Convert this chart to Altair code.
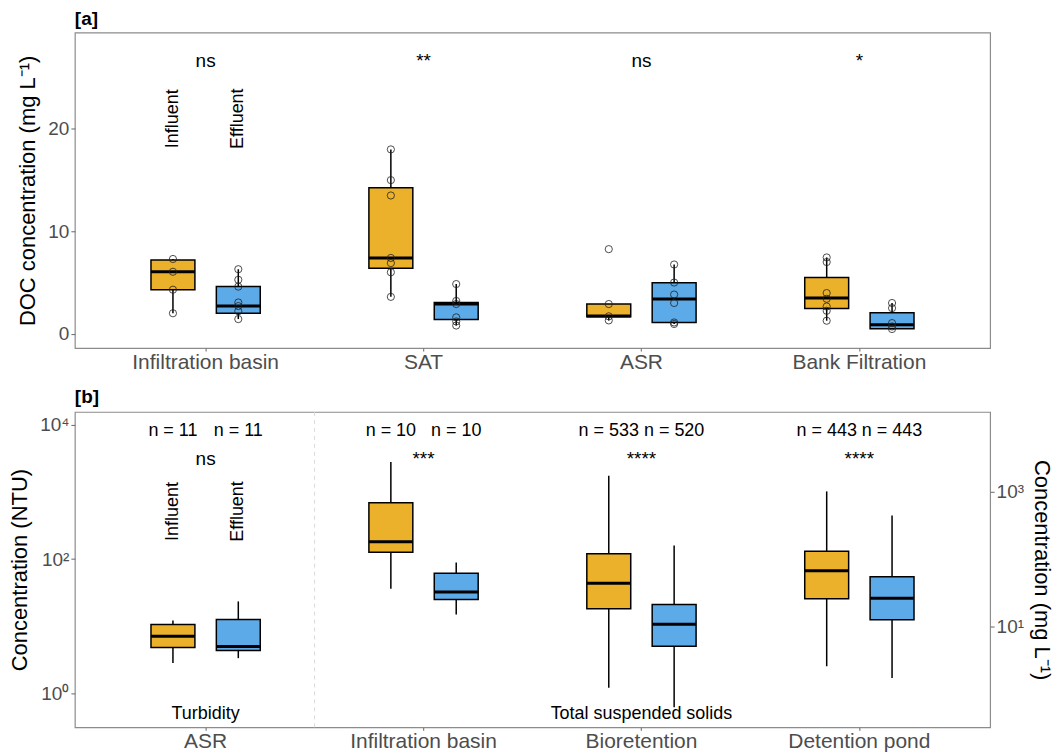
import altair as alt
import pandas as pd

FONT = "Liberation Sans"
GROUPS = ["Influent", "Effluent"]
COLORS = ["#EBB12B", "#5CAAE8"]

# ---------------- Panel a: DOC ----------------
CATS_A = ["Infiltration basin", "SAT", "ASR", "Bank Filtration"]
# order: cat1-Influent, cat1-Effluent, cat2-Influent, ...
A_LO = [2.0, 1.43, 3.6, 0.8, 1.3, 0.95, 1.27, 0.46]
A_Q1 = [4.3, 2.0, 6.4, 1.4, 1.66, 1.1, 2.47, 0.49]
A_MED = [6.05, 2.7, 7.4, 2.9, 1.73, 3.38, 3.48, 0.88]
A_Q3 = [7.2, 4.6, 14.25, 3.05, 2.9, 4.98, 5.5, 2.05]
A_HI = [7.3, 6.3, 18.0, 4.85, 2.9, 6.76, 7.45, 3.0]
A_POINTS = [
    [7.3, 6.05, 4.3, 2.0],
    [6.3, 5.27, 4.6, 3.05, 2.7, 2.2, 1.43],
    [18.0, 15.0, 13.5, 7.4, 6.9, 6.0, 3.6],
    [4.85, 3.2, 2.9, 1.6, 1.2, 0.8],
    [8.26, 2.9, 1.7, 1.3],
    [6.76, 5.0, 3.83, 3.0, 1.1, 0.95],
    [7.45, 7.0, 3.97, 3.41, 2.66, 2.24, 1.27],
    [3.0, 2.5, 1.04, 0.71, 0.46],
]
A_SIG = ["ns", "**", "ns", "*"]
A_SIG_Y = 26.6
A_GROUP_LABEL_Y = 21.0
A_DOMAIN = [-1.4, 29.4]
A_TICKS = [0, 10, 20]

# ---------------- Panel b: Turbidity / TSS ----------------
CATS_B = ["ASR", "Infiltration basin", "Bioretention", "Detention pond"]
B_LO = [2.84, 3.34, 36.2, 15.0, 1.21, 0.62, 2.53, 1.69]
B_Q1 = [4.8, 4.33, 126, 25.1, 18.2, 5.04, 25.7, 12.5]
B_MED = [7.1, 4.97, 181, 32.3, 43.5, 10.7, 67.3, 26.0]
B_Q3 = [10.6, 12.6, 692, 61.4, 120, 21.1, 131, 54.7]
B_HI = [12.2, 23.4, 2800, 88.7, 1753, 159, 1021, 447]
B_N = [11, 11, 10, 10, 533, 520, 443, 443]
B_SIG = ["ns", "***", "****", "****"]
B_SIG_Y = 3090
B_N_Y = 8020
B_GROUP_LABEL_Y = 513
B_VAR_LABELS = ["Turbidity", "Total suspended solids"]
B_VAR_CATS = ["ASR", "Bioretention"]
B_VAR_Y = 0.49
B_DOMAIN = [0.311, 15600]
B_TICKS_LEFT = [1, 100, 10000]
B_TICKS_RIGHT = [10, 1000]


def stats_df(cats, lo, q1, med, q3, hi, n=None):
    rows = []
    i = 0
    for c in cats:
        for g in GROUPS:
            rows.append(dict(cat=c, grp=g, lo=lo[i], q1=q1[i], med=med[i],
                             q3=q3[i], hi=hi[i],
                             nlab=(f"n = {n[i]}" if n else "")))
            i += 1
    return pd.DataFrame(rows)


df_a = stats_df(CATS_A, A_LO, A_Q1, A_MED, A_Q3, A_HI)
pts_rows = []
i = 0
for c in CATS_A:
    for g in GROUPS:
        for v in A_POINTS[i]:
            pts_rows.append(dict(cat=c, grp=g, v=v))
        i += 1
df_pts = pd.DataFrame(pts_rows)
df_sig_a = pd.DataFrame(dict(cat=CATS_A, lab=A_SIG, y=[A_SIG_Y] * 4))
df_glab_a = pd.DataFrame(dict(cat=[CATS_A[0]] * 2, grp=GROUPS, lab=GROUPS,
                              y=[A_GROUP_LABEL_Y] * 2))

df_b = stats_df(CATS_B, B_LO, B_Q1, B_MED, B_Q3, B_HI, B_N)
df_b["ny"] = B_N_Y
df_sig_b = pd.DataFrame(dict(cat=CATS_B, lab=B_SIG, y=[B_SIG_Y] * 4))
df_glab_b = pd.DataFrame(dict(cat=[CATS_B[0]] * 2, grp=GROUPS, lab=GROUPS,
                              y=[B_GROUP_LABEL_Y] * 2))
df_var_b = pd.DataFrame(dict(cat=B_VAR_CATS, lab=B_VAR_LABELS, y=[B_VAR_Y] * 2))
df_sep = pd.DataFrame(dict(cat=[CATS_B[1]]))

BOX_W = 44
PW = 917
PH = 316


def xaxis():
    return alt.Axis(title=None, labelAngle=0, labelFontSize=21,
                    labelColor="#4d4d4d", labelFont=FONT,
                    tickColor="#666", tickSize=3, labelPadding=0,
                    domain=False)


def xenc(cats):
    return alt.X("cat:N", sort=cats,
                 scale=alt.Scale(domain=cats, paddingInner=0, paddingOuter=0.1),
                 axis=xaxis())


XO = alt.XOffset("grp:N", sort=GROUPS,
                 scale=alt.Scale(domain=GROUPS, paddingInner=0, paddingOuter=0.667))
COL = alt.Color("grp:N", scale=alt.Scale(domain=GROUPS, range=COLORS), legend=None)


def yaxis(title, values, orient="left", label_expr=None, title_pad=8):
    kw = dict(title=title, values=values, orient=orient, grid=False, domain=False,
              labelFontSize=19, labelColor="#4d4d4d", labelFont=FONT,
              titleFontSize=22, titleFont=FONT, titleFontWeight="normal",
              titleColor="black", tickColor="#666", tickSize=4, labelPadding=2,
              titlePadding=title_pad)
    if label_expr:
        kw["labelExpr"] = label_expr
    return alt.Axis(**kw)


def panel_title(t):
    return alt.Title(t, anchor="start", frame="group", fontSize=19,
                     fontWeight="bold", font=FONT, color="black", offset=4)


# ---------- panel a ----------
ysa = alt.Scale(domain=A_DOMAIN, nice=False, zero=False)
ax_a = yaxis("DOC concentration (mg L⁻¹)", A_TICKS)

base_a = alt.Chart(df_a)
wh_a = base_a.mark_rule(color="black", strokeWidth=1.5).encode(
    x=xenc(CATS_A), xOffset=XO,
    y=alt.Y("lo:Q", scale=ysa, axis=ax_a), y2="hi:Q")
box_a = base_a.mark_bar(size=BOX_W, stroke="black", strokeWidth=1.5).encode(
    x=xenc(CATS_A), xOffset=XO, y=alt.Y("q1:Q", scale=ysa), y2="q3:Q", color=COL)
med_a = base_a.mark_tick(size=BOX_W, thickness=3, color="black", opacity=1).encode(
    x=xenc(CATS_A), xOffset=XO, y=alt.Y("med:Q", scale=ysa))
pts_a = alt.Chart(df_pts).mark_point(shape="circle", filled=False, color="#222",
                                     size=52, strokeWidth=0.8, opacity=1).encode(
    x=xenc(CATS_A), xOffset=XO, y=alt.Y("v:Q", scale=ysa))
sig_a = alt.Chart(df_sig_a).mark_text(fontSize=19, font=FONT, color="black",
                                      baseline="middle").encode(
    x=xenc(CATS_A), y=alt.Y("y:Q", scale=ysa), text="lab:N")
glab_a = alt.Chart(df_glab_a).mark_text(fontSize=18, font=FONT, color="black",
                                        angle=270, baseline="middle",
                                        align="center").encode(
    x=xenc(CATS_A), xOffset=XO, y=alt.Y("y:Q", scale=ysa), text="lab:N")

panel_a = alt.layer(wh_a, box_a, med_a, pts_a, sig_a, glab_a).properties(
    width=PW, height=PH, title=panel_title("[a]"))

# ---------- panel b ----------
ysb = alt.Scale(type="log", domain=B_DOMAIN, nice=False)
ax_bl = yaxis("Concentration (NTU)", B_TICKS_LEFT,
              label_expr="datum.value == 1 ? '10⁰' : datum.value == 100 ? '10²' : '10⁴'")
ax_br = yaxis("Concentration (mg L⁻¹)", B_TICKS_RIGHT, orient="right",
              label_expr="datum.value == 10 ? '10¹' : '10³'", title_pad=6)

base_b = alt.Chart(df_b)
sep_b = alt.Chart(df_sep).mark_rule(color="#d9d9d9", strokeDash=[4, 4],
                                    strokeWidth=1).encode(
    x=alt.X("cat:N", sort=CATS_B, bandPosition=0,
            scale=alt.Scale(domain=CATS_B, paddingInner=0, paddingOuter=0.1),
            axis=xaxis()))
wh_b = base_b.mark_rule(color="black", strokeWidth=1.5).encode(
    x=xenc(CATS_B), xOffset=XO,
    y=alt.Y("lo:Q", scale=ysb, axis=ax_bl), y2="hi:Q")
wh_b_right = base_b.mark_rule(opacity=0).encode(
    x=xenc(CATS_B), xOffset=XO,
    y=alt.Y("lo:Q", scale=ysb, axis=ax_br), y2="hi:Q")
box_b = base_b.mark_bar(size=BOX_W, stroke="black", strokeWidth=1.5).encode(
    x=xenc(CATS_B), xOffset=XO, y=alt.Y("q1:Q", scale=ysb, axis=None), y2="q3:Q",
    color=COL)
med_b = base_b.mark_tick(size=BOX_W, thickness=3, color="black", opacity=1).encode(
    x=xenc(CATS_B), xOffset=XO, y=alt.Y("med:Q", scale=ysb, axis=None))
n_b = base_b.mark_text(fontSize=18, font=FONT, color="black",
                       baseline="middle").encode(
    x=xenc(CATS_B), xOffset=XO, y=alt.Y("ny:Q", scale=ysb, axis=None), text="nlab:N")
sig_b = alt.Chart(df_sig_b).mark_text(fontSize=19, font=FONT, color="black",
                                      baseline="middle").encode(
    x=xenc(CATS_B), y=alt.Y("y:Q", scale=ysb, axis=None), text="lab:N")
glab_b = alt.Chart(df_glab_b).mark_text(fontSize=18, font=FONT, color="black",
                                        angle=270, baseline="middle",
                                        align="center").encode(
    x=xenc(CATS_B), xOffset=XO, y=alt.Y("y:Q", scale=ysb, axis=None), text="lab:N")
var_b = alt.Chart(df_var_b).mark_text(fontSize=18, font=FONT, color="black",
                                      baseline="middle").encode(
    x=xenc(CATS_B), y=alt.Y("y:Q", scale=ysb, axis=None), text="lab:N")

panel_b = alt.layer(sep_b, wh_b, wh_b_right, box_b, med_b, n_b, sig_b, glab_b,
                    var_b).resolve_axis(y="independent").properties(
    width=PW, height=PH, title=panel_title("[b]"))

chart = alt.vconcat(panel_a, panel_b, spacing=14).configure(
    font=FONT, padding={"left": 0, "top": 0, "right": 0, "bottom": 0}
).configure_view(stroke="#8c8c8c", strokeWidth=1.2)

chart.save("out.html", embed_options={"renderer": "svg", "actions": False})
